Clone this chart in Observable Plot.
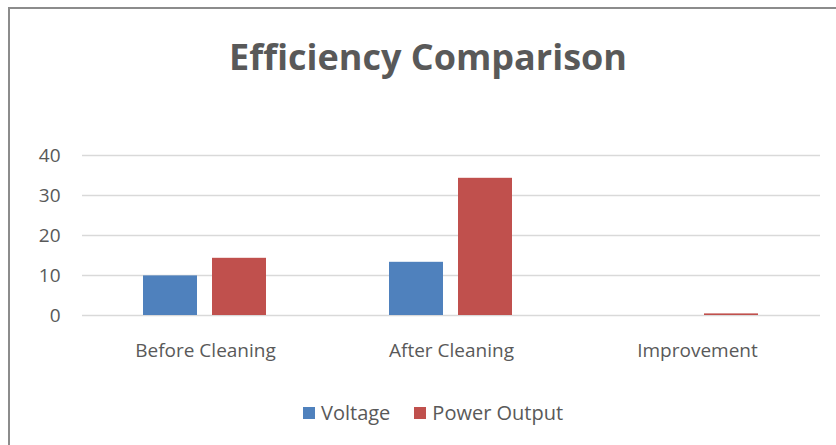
<!DOCTYPE html>
<html>
<head>
<meta charset="utf-8">
<script src="https://cdn.jsdelivr.net/npm/d3@7"></script>
<script src="https://cdn.jsdelivr.net/npm/@observablehq/plot@0.6"></script>
<style>
  html, body { margin: 0; padding: 0; background: #fff; }
  #wrap { position: relative; width: 836px; height: 445px; overflow: hidden; font-family: "Open Sans", sans-serif; }
  #frame { position: absolute; left: 8px; top: 7px; width: 840px; height: 450px; border-left: 2px solid #8c8c8c; border-top: 2px solid #8c8c8c; box-sizing: border-box; }
  #title { position: absolute; left: 0; width: 856px; top: 39px; line-height: 1; text-align: center; font-size: 36px; font-weight: 700; color: #595959; }
  #chart { position: absolute; left: 0; top: 0; }
  #legend { position: absolute; top: 403px; left: 303px; display: flex; align-items: center; font-size: 20px; line-height: 20px; color: #595959; }
  .sw { display: inline-block; width: 12px; height: 12px; margin-right: 6px; }
  .item { display: flex; align-items: center; margin-right: 24px; }
</style>
</head>
<body>
<div id="wrap">
  <div id="frame"></div>
  <div id="title">Efficiency Comparison</div>
  <div id="chart"></div>
  <div id="legend"></div>
</div>
<script>
const categories = ["Before Cleaning", "After Cleaning", "Improvement"];
const series = ["Voltage", "Power Output"];
const voltage = [9.9, 13.3, 0];
const powerOutput = [14.3, 34.3, 0.4];
const colors = ["#4F81BD", "#C0504D"];
const yTicks = [0, 10, 20, 30, 40];

const data = [];
categories.forEach((c, i) => {
  data.push({category: c, series: series[0], value: voltage[i]});
  data.push({category: c, series: series[1], value: powerOutput[i]});
});

const chart = Plot.plot({
  width: 836,
  height: 370,
  marginLeft: 82,
  marginRight: 16,
  marginTop: 155,
  marginBottom: 55,
  style: {fontFamily: "Open Sans, sans-serif", fontSize: "19px", color: "#595959", background: "transparent"},
  fx: {domain: categories, padding: 0, axis: "bottom", label: null, tickSize: 0, tickPadding: 28},
  x: {domain: series, paddingInner: 0.214, paddingOuter: 0.87, axis: null},
  y: {domain: [0, 40], ticks: yTicks, label: null, tickSize: 0, tickPadding: 22},
  color: {domain: series, range: colors},
  marks: [
    Plot.ruleY(yTicks, {stroke: "#d9d9d9", strokeWidth: 1.4}),
    Plot.barY(data, {fx: "category", x: "series", y: "value", fill: "series"})
  ]
});
chart.querySelectorAll("text").forEach(t => t.setAttribute("fill", "#595959"));
chart.querySelectorAll("g[aria-label$='axis'], g[aria-label*='tick label']").forEach(g => g.setAttribute("font-size", "19"));
document.getElementById("chart").appendChild(chart);

const legend = document.getElementById("legend");
series.forEach((s, i) => {
  const item = document.createElement("div");
  item.className = "item";
  item.innerHTML = `<span class="sw" style="background:${colors[i]}"></span>${s}`;
  legend.appendChild(item);
});
</script>
</body>
</html>
